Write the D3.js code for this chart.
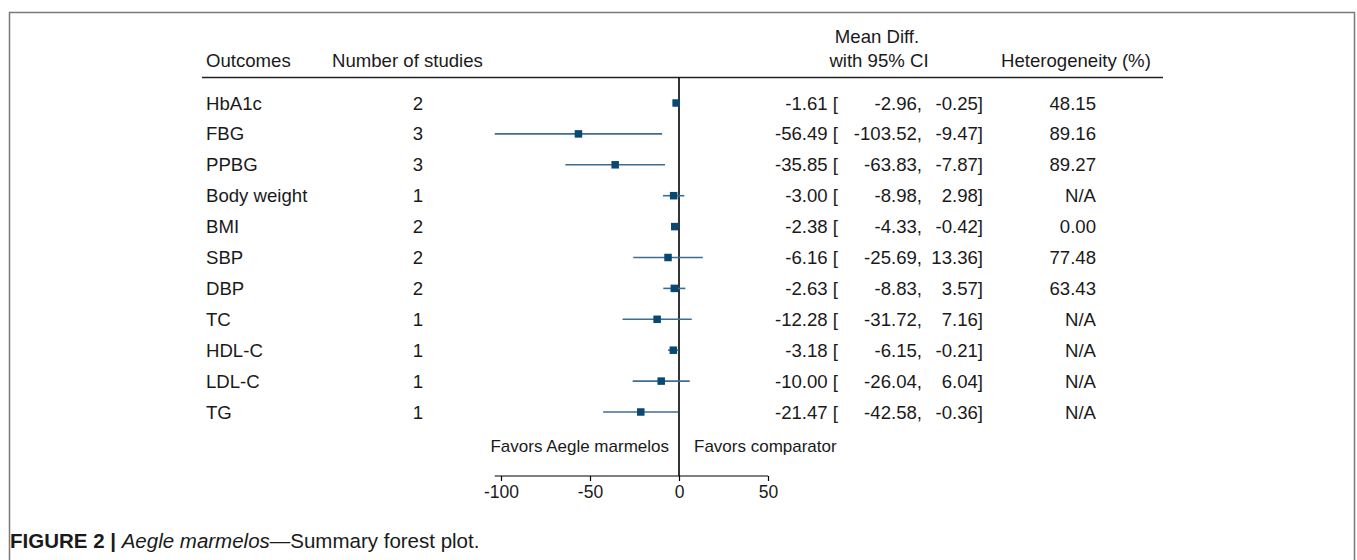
<!DOCTYPE html>
<html>
<head>
<meta charset="utf-8">
<script src="https://cdn.jsdelivr.net/npm/d3@7"></script>
<style>
  html, body { margin: 0; padding: 0; background: #fff; }
  svg text { font-family: "Liberation Sans", Arial, sans-serif; fill: #1a1a1a; }
</style>
</head>
<body>
<svg id="chart" width="1357" height="560"></svg>
<script>
// Summary forest plot data
const outcomes = ["HbA1c", "FBG", "PPBG", "Body weight", "BMI", "SBP", "DBP", "TC", "HDL-C", "LDL-C", "TG"];
const nStudies = [2, 3, 3, 1, 2, 2, 2, 1, 1, 1, 1];
const meanDiff = [-1.61, -56.49, -35.85, -3.00, -2.38, -6.16, -2.63, -12.28, -3.18, -10.00, -21.47];
const ciLower  = [-2.96, -103.52, -63.83, -8.98, -4.33, -25.69, -8.83, -31.72, -6.15, -26.04, -42.58];
const ciUpper  = [-0.25, -9.47, -7.87, 2.98, -0.42, 13.36, 3.57, 7.16, -0.21, 6.04, -0.36];
const heterogeneity = ["48.15", "89.16", "89.27", "N/A", "0.00", "77.48", "63.43", "N/A", "N/A", "N/A", "N/A"];
const xTicks = [-100, -50, 0, 50];

const rows = outcomes.map((o, i) => ({
  outcome: o, n: nStudies[i], es: meanDiff[i], lo: ciLower[i], hi: ciUpper[i], het: heterogeneity[i]
}));

const svg = d3.select("#chart");
const FS = 18.6;   // table text
const FS_SMALL = 17; // direction labels

// outer frame
svg.append("path")
  .attr("d", "M9.5,560 V12.5 H1354.5 V560")
  .attr("fill", "none").attr("stroke", "#7a7a7a").attr("stroke-width", 1.5);

const x = d3.scaleLinear().domain([-100, 50]).range([501, 768]);
const y = d3.scalePoint().domain(outcomes).range([103, 412]);
const axisY = 476;

// header rule
svg.append("line")
  .attr("x1", 202).attr("x2", 1163).attr("y1", 77.5).attr("y2", 77.5)
  .attr("stroke", "#222").attr("stroke-width", 1.5);

// headers
const header = svg.append("g").attr("font-size", FS);
header.append("text").attr("x", 206).attr("y", 60).attr("dy", "0.35em").text("Outcomes");
header.append("text").attr("x", 332).attr("y", 60).attr("dy", "0.35em").text("Number of studies");
header.append("text").attr("x", 877).attr("y", 36).attr("dy", "0.35em").attr("text-anchor", "middle").text("Mean Diff.");
header.append("text").attr("x", 879).attr("y", 60).attr("dy", "0.35em").attr("text-anchor", "middle").text("with 95% CI");
header.append("text").attr("x", 1001).attr("y", 60).attr("dy", "0.35em").text("Heterogeneity (%)");

// line of no effect
svg.append("line")
  .attr("x1", x(0)).attr("x2", x(0)).attr("y1", 77.5).attr("y2", axisY)
  .attr("stroke", "#000").attr("stroke-width", 1.6);

// confidence intervals
svg.append("g").selectAll("line").data(rows).join("line")
  .attr("x1", d => x(d.lo)).attr("x2", d => x(d.hi))
  .attr("y1", d => y(d.outcome)).attr("y2", d => y(d.outcome))
  .attr("stroke", "#3d6d93").attr("stroke-width", 1.6);

// point estimates
const sq = 7.5;
svg.append("g").selectAll("rect").data(rows).join("rect")
  .attr("x", d => x(d.es) - sq / 2).attr("y", d => y(d.outcome) - sq / 2)
  .attr("width", sq).attr("height", sq)
  .attr("fill", "#0a4874");

// table text
const tbl = svg.append("g").attr("font-size", FS);
const rowText = (xPos, anchor, fn) => tbl.append("g").selectAll("text").data(rows).join("text")
  .attr("x", xPos).attr("y", d => y(d.outcome)).attr("dy", "0.35em")
  .attr("text-anchor", anchor).text(fn);

rowText(206, "start", d => d.outcome);
rowText(418, "middle", d => d.n);
rowText(838, "end", d => d.es.toFixed(2) + " [");
rowText(922, "end", d => d.lo.toFixed(2) + ",");
rowText(983, "end", d => d.hi.toFixed(2) + "]");
rowText(1096, "end", d => d.het);

// direction labels
svg.append("text").attr("font-size", FS_SMALL).attr("x", x(0) - 10).attr("y", 446).attr("dy", "0.35em")
  .attr("text-anchor", "end").text("Favors Aegle marmelos");
svg.append("text").attr("font-size", FS_SMALL).attr("x", x(0) + 15).attr("y", 446).attr("dy", "0.35em")
  .text("Favors comparator");

// x axis
const axis = svg.append("g").attr("transform", `translate(0,${axisY})`)
  .call(d3.axisBottom(x).tickValues(xTicks).tickSize(5).tickPadding(5).tickFormat(d => String(d)));
axis.select(".domain").remove();
axis.append("line")
  .attr("x1", x(d3.min(ciLower))).attr("x2", x(50))
  .attr("stroke", "#000").attr("stroke-width", 1.2);
axis.selectAll(".tick line").attr("stroke", "#000").attr("stroke-width", 1.2);
axis.selectAll(".tick text").attr("font-size", 17.5).attr("font-family", "Liberation Sans, Arial, sans-serif").attr("fill", "#1a1a1a");

// caption
const cap = svg.append("text").attr("x", 10).attr("y", 548).attr("font-size", 20.5);
cap.append("tspan").attr("font-weight", "bold").text("FIGURE 2 | ");
cap.append("tspan").attr("font-style", "italic").text("Aegle marmelos");
cap.append("tspan").text("\u2014Summary forest plot.");
</script>
</body>
</html>
